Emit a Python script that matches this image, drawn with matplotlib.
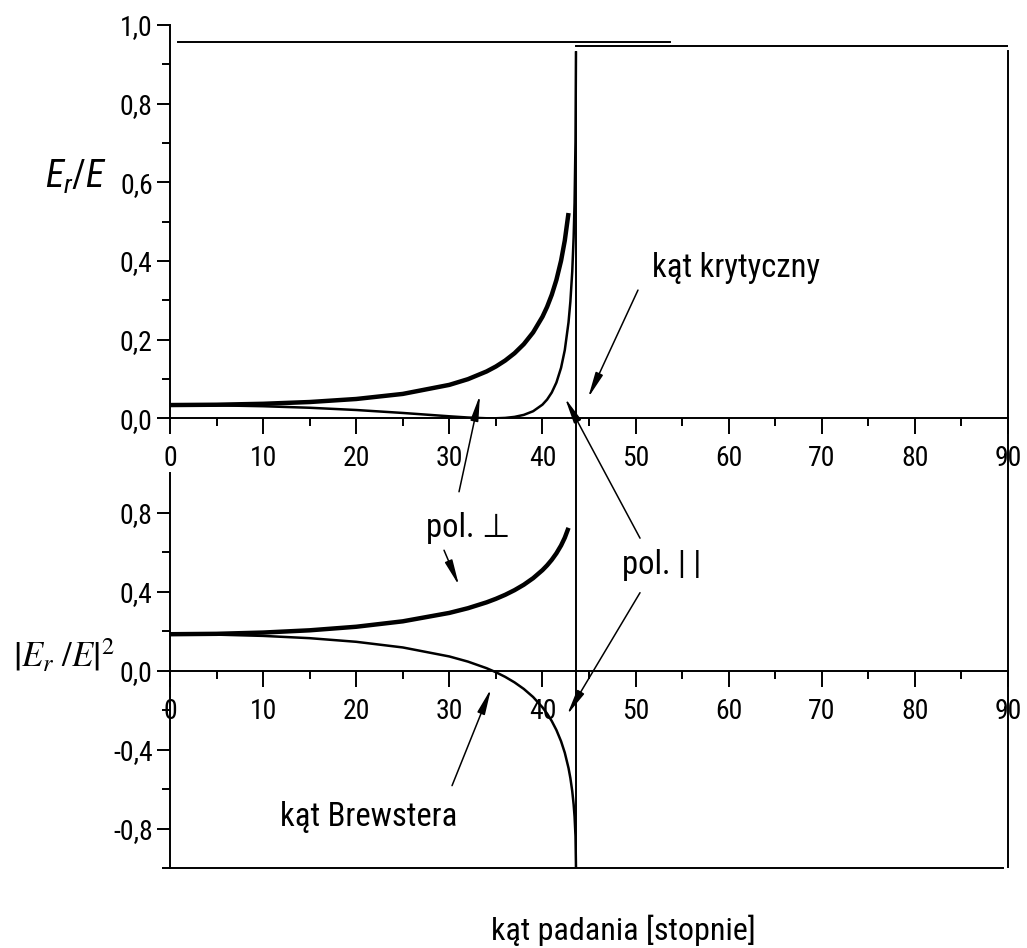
import matplotlib
matplotlib.use('Agg')
import matplotlib.pyplot as plt
from matplotlib import font_manager
from matplotlib.ticker import FixedLocator, FuncFormatter

# pick a narrow sans family if one is installed
_installed = {f.name for f in font_manager.fontManager.ttflist}
narrow = None
for cand in ['Liberation Sans Narrow', 'Arial Narrow', 'Nimbus Sans Narrow', 'Roboto Condensed',
             'Noto Sans Condensed', 'Open Sans Condensed', 'DejaVu Sans Condensed']:
    if cand in _installed:
        narrow = cand
        break
base = narrow if narrow else 'Liberation Sans'
scale = 0.94 if narrow else 0.86

plt.rcParams['font.family'] = [base, 'Liberation Sans', 'DejaVu Sans']
plt.rcParams['mathtext.fontset'] = 'custom'
plt.rcParams['mathtext.it'] = base + ':italic'
plt.rcParams['mathtext.rm'] = base

# ---- data ----
angle_s = [0, 5, 10, 15, 20, 25, 30, 32, 34, 35, 36, 37, 38, 39, 40, 40.5, 41, 41.5, 42, 42.4, 42.8]
angle_p = angle_s + [43.0, 43.2, 43.35, 43.45, 43.55, 43.6]
top_s = [0.0337, 0.0345, 0.0369, 0.0414, 0.0491, 0.0620, 0.0850, 0.0995, 0.1191, 0.1317, 0.1469,
         0.1654, 0.1886, 0.2184, 0.2581, 0.2834, 0.3140, 0.3520, 0.4007, 0.4520, 0.5219]
top_p = [0.0337, 0.0330, 0.0307, 0.0268, 0.0211, 0.0136, 0.0051, 0.0020, 0.0001, 0.0001, 0.0010,
         0.0036, 0.0087, 0.0180, 0.0347, 0.0477, 0.0656, 0.0909, 0.1284, 0.1734, 0.2439,
         0.2969, 0.3732, 0.4601, 0.5472, 0.7037, 0.93]
bot_s = [0.1837, 0.1857, 0.1921, 0.2035, 0.2215, 0.2490, 0.2916, 0.3154, 0.3451, 0.3629, 0.3832,
         0.4068, 0.4343, 0.4674, 0.5081, 0.5324, 0.5604, 0.5933, 0.6330, 0.6723, 0.7224]
bot_p = [0.1837, 0.1816, 0.1752, 0.1637, 0.1453, 0.1167, 0.0711, 0.0450, 0.0117, -0.0087, -0.0323,
         -0.0601, -0.0934, -0.1343, -0.1864, -0.2183, -0.2560, -0.3015, -0.3583, -0.4164, -0.4938,
         -0.5449, -0.6109, -0.6783, -0.7397, -0.8388, -0.99]
critical_angle = 43.6

x_major = [0, 10, 20, 30, 40, 50, 60, 70, 80, 90]
x_minor = [5, 15, 25, 35, 45, 55, 65, 75, 85]
top_y_major = [0.0, 0.2, 0.4, 0.6, 0.8, 1.0]
top_y_minor = [0.1, 0.3, 0.5, 0.7, 0.9]
bot_y_major = [-0.8, -0.4, 0.0, 0.4, 0.8]
bot_y_minor = [-1.0, -0.6, -0.2, 0.2, 0.6]

W, H = 1027, 948
fig = plt.figure(figsize=(W / 100, H / 100), dpi=100)
ax1 = fig.add_axes([170 / W, (H - 418.3) / H, 838 / W, 393.3 / H])
ax2 = fig.add_axes([170 / W, (H - 868) / H, 838 / W, 395 / H])

LW = 1.4
fmt_y = FuncFormatter(lambda v, p: f"{v:.1f}".replace('.', ',').replace('\u2212', '-'))
fmt_x = FuncFormatter(lambda v, p: f"{v:.0f}")
TICK_FS = 20 if narrow else 19

for ax in (ax1, ax2):
    ax.set_xlim(0, 90)
    ax.spines['top'].set_visible(False)
    ax.spines['right'].set_visible(False)
    ax.spines['left'].set_linewidth(LW)
    ax.spines['bottom'].set_linewidth(LW)
    ax.xaxis.set_major_locator(FixedLocator(x_major))
    ax.xaxis.set_minor_locator(FixedLocator(x_minor))
    ax.xaxis.set_major_formatter(fmt_x)
    ax.yaxis.set_major_formatter(fmt_y)
    ax.tick_params(axis='x', which='major', direction='out', length=11.5, width=LW, pad=8, labelsize=TICK_FS)
    ax.tick_params(axis='x', which='minor', direction='out', length=6, width=LW)
    ax.tick_params(axis='y', which='major', direction='out', length=9.4, width=LW, pad=3, labelsize=TICK_FS)
    ax.tick_params(axis='y', which='minor', direction='out', length=6, width=LW)
    ax.patch.set_alpha(0)

ax1.set_ylim(0, 1.0)
ax1.yaxis.set_major_locator(FixedLocator(top_y_major))
ax1.yaxis.set_minor_locator(FixedLocator(top_y_minor))
ax2.set_ylim(-1.0, 1.0)
ax2.yaxis.set_major_locator(FixedLocator(bot_y_major))
ax2.yaxis.set_minor_locator(FixedLocator(bot_y_minor))
ax2.spines['bottom'].set_position(('data', 0))

# curves
ax1.plot(angle_s, top_s, color='black', lw=3.2, solid_capstyle='butt')
ax1.plot(angle_p, top_p, color='black', lw=1.8)
ax2.plot(angle_s, bot_s, color='black', lw=3.2, solid_capstyle='butt')
ax2.plot(angle_p, bot_p, color='black', lw=1.8)

# frame pieces
ax1.plot([0.9, 53.7], [0.957, 0.957], color='black', lw=LW)
ax1.plot([critical_angle, 90], [0.947, 0.947], color='black', lw=LW)
ax2.plot([0, 89.5], [-1.0, -1.0], color='black', lw=LW, clip_on=False)
ax2.axvline(90, ymin=0.003, ymax=2.069, color='black', lw=LW, clip_on=False)
ax2.axvline(critical_angle, ymin=0.0127, ymax=2.065, color='black', lw=LW, clip_on=False)

# axis labels
ax1.set_ylabel(r'$E_r/E$', rotation=0, fontsize=27, ha='center', va='center')
ax1.yaxis.set_label_coords(-0.112, 0.614)
ax2.set_ylabel(r'$\left|E_{r}\ /E\right|^{2}$', rotation=0, fontsize=25, ha='center', va='center',
               math_fontfamily='stix')
ax2.yaxis.set_label_coords(-0.1265, 0.539)
fig.text(623 / W, (H - 940) / H, 'kąt padania [stopnie]', ha='center', va='baseline',
         fontsize=24.5 * scale)

# annotations
TS = 25 * scale
ax1.text(51.77, 0.360, 'kąt krytyczny', fontsize=TS, ha='left', va='baseline')
ax2.text(27.49, 0.675, 'pol. ⊥', fontsize=TS, ha='left', va='baseline')
ax2.text(48.51, 0.491, 'pol. | |', fontsize=TS, ha='left', va='baseline')
ax2.text(11.81, -0.788, 'kąt Brewstera', fontsize=TS, ha='left', va='baseline')

ap = dict(arrowstyle='-|>,head_length=1.1,head_width=0.17', mutation_scale=14, lw=1.1,
          color='black', shrinkA=0, shrinkB=0)
ax1.annotate('', xy=(44.9, 0.052), xytext=(50.26, 0.326), arrowprops=ap, annotation_clip=False)
ax2.annotate('', xy=(33.29, 0.0593), xycoords=ax1.transData, xytext=(31.04, 0.905),
             textcoords=ax2.transData, arrowprops=ap, annotation_clip=False)
ax2.annotate('', xy=(31.04, 0.430), xytext=(29.43, 0.609), arrowprops=ap, annotation_clip=False)
ax2.annotate('', xy=(42.42, 0.0517), xycoords=ax1.transData, xytext=(50.48, 0.670),
             textcoords=ax2.transData, arrowprops=ap, annotation_clip=False)
ax2.annotate('', xy=(42.64, -0.225), xytext=(50.48, 0.394), arrowprops=ap, annotation_clip=False)
ax2.annotate('', xy=(34.48, -0.092), xytext=(30.29, -0.583), arrowprops=ap, annotation_clip=False)

fig.savefig('out.png', dpi=100, facecolor='white')
